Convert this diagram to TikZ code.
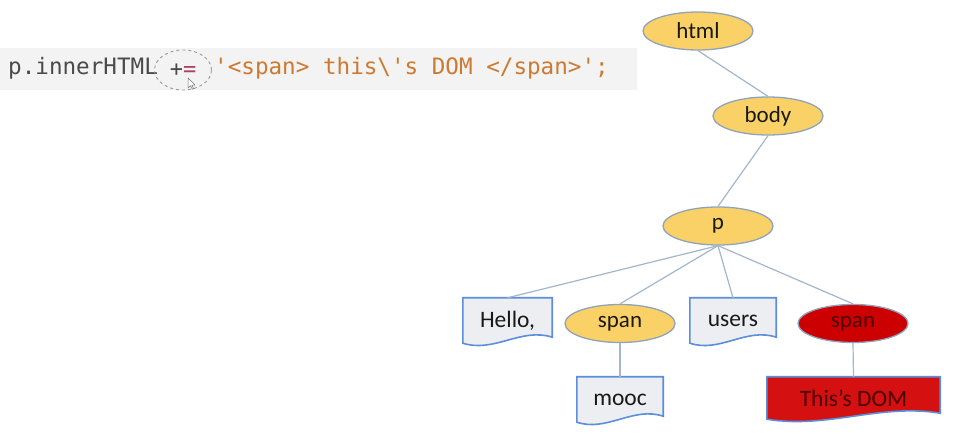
\documentclass[tikz,border=0pt]{standalone}
\usepackage{fontspec}
\setmainfont{Carlito}
\newfontfamily\codefont{DejaVu Sans Mono}
\usetikzlibrary{shapes.geometric,calc,backgrounds}
\definecolor{elemfill}{HTML}{FAD167}
\definecolor{elemline}{HTML}{8FA3BA}
\definecolor{newred}{HTML}{CC0000}
\definecolor{domred}{HTML}{D51010}
\definecolor{darkred}{HTML}{4A0000}
\definecolor{boxfill}{HTML}{EDEEF2}
\definecolor{docline}{HTML}{5B8FDB}
\definecolor{linkcol}{HTML}{A3B6CC}
\definecolor{codegray}{HTML}{4A4A4A}
\definecolor{codestr}{HTML}{CC7A30}
\definecolor{codeop}{HTML}{A8406A}
\definecolor{bandgray}{HTML}{F3F3F3}
\begin{document}
\begin{tikzpicture}[x=1pt,y=-1pt,
  elem/.style={ellipse,draw=elemline,fill=elemfill,line width=1.3pt,
    minimum width=110pt,minimum height=38pt,inner sep=0pt,text=black!90,
    font=\fontsize{23}{26}\selectfont},
  newelem/.style={elem,fill=newred,text=darkred},
  txt/.style={rectangle,minimum width=86pt,minimum height=45pt,inner sep=0pt,
    text=black!90,font=\fontsize{23.5}{26}\selectfont},
  doc/.style={draw=docline,line width=1.6pt},
  link/.style={draw=linkcol,line width=1.2pt},
  code/.style={anchor=base west,inner sep=0pt,font=\codefont\fontsize{22.6}{26}\selectfont},
]
\useasboundingbox (0,0) rectangle (953,435);

% the line of code
\node[code,text=codegray] (lhs) at (8,75) {p.innerHTML};
\node[ellipse,draw=black!40,dashed,line width=0.9pt,minimum width=57pt,minimum height=40pt,
  inner sep=0pt,font=\codefont\fontsize{22}{26}\selectfont] (op) at (183,70)
  {\textcolor{codegray}{+}\textcolor{codeop}{=}};
\node[code,text=codestr] (str) at (214,75)
  {\textquotesingle<span> this\textbackslash\textquotesingle s DOM </span>\textquotesingle;};
\filldraw[fill=white,draw=black!55,line width=0.5pt] (188,78) -- (188,88) -- (190.5,85.8)
  -- (192.3,89.2) -- (193.6,88.6) -- (191.9,85.3) -- (195,85) -- cycle;

% the tree
\node[elem] (html) at (698,31) {html};
\node[elem] (body) at (768,116) {body};
\node[elem] (p) at (718,226) {p};
\node[txt,minimum width=89pt] (hello) at (507.5,320.5) {Hello,};
\node[elem] (span) at (620,323.5) {span};
\node[txt] (users) at (733,320.5) {users};
\node[newelem] (newspan) at (853,323.5) {span};
\node[txt] (mooc) at (620,399.5) {mooc};
\node[txt,minimum width=173pt,minimum height=42pt,text=darkred] (dom) at (853.5,398) {This’s DOM};

\draw[link] (html.south) -- (body.north);
\draw[link] (body.south) -- (p.north);
\foreach \c in {hello,span,users,newspan}
  \draw[link] (p.south) -- (\c.north);
\draw[link] (span.south) -- (mooc.north);
\draw[link] (newspan.south) -- (dom.north);

\begin{scope}[on background layer]
\fill[white] (0,0) rectangle (953,435);
\fill[bandgray] (0,48) rectangle (637,90);
\foreach \n/\f in {hello/boxfill,users/boxfill,mooc/boxfill,dom/domred}
  \filldraw[doc,fill=\f] (\n.north west) -- (\n.north east) -- ([yshift=6pt]\n.south east)
    .. controls ($(\n.south west)!0.65!(\n.south east)+(0pt,16pt)$)
    and ($(\n.south west)!0.35!(\n.south east)+(0pt,-10pt)$) .. (\n.south west) -- cycle;
\end{scope}
\end{tikzpicture}
\end{document}
